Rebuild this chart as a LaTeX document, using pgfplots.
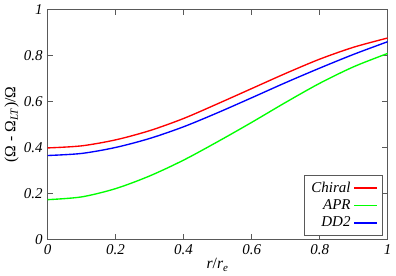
\documentclass[border=0pt]{standalone}
\usepackage{pgfplots}
\pgfplotsset{compat=1.18}
\usepackage{fontspec}
\setmainfont{Liberation Serif}
\begin{document}
\begin{tikzpicture}
\begin{axis}[
  scale only axis,
  width=250pt, height=169pt,
  xmin=0, xmax=1, ymin=0, ymax=1,
  xtick={0,0.2,0.4,0.6,0.8,1},
  ytick={0,0.2,0.4,0.6,0.8,1},
  /pgf/number format/assume math mode=true,
  tick align=inside,
  major tick length=4pt,
  axis line style={gray!70!black, line width=0.8pt},
  every tick/.style={gray!70!black, line width=0.6pt},
  tick label style={font=\fontsize{11}{12}\selectfont\itshape},
  xlabel={\textit{r}/\textit{r}\textsubscript{\textit{e}}},
  ylabel={(Ω - Ω\textsubscript{\textit{LT}})/Ω},
  label style={font=\fontsize{11.5}{12}\selectfont},
  xlabel style={yshift=4pt},
  ylabel style={yshift=-3pt},
  legend cell align=right,
  legend style={font=\fontsize{11}{11}\selectfont\itshape, draw=gray!70!black, inner xsep=3pt, inner ysep=3pt, row sep=0pt, at={(0.985,0.015)}, anchor=south east},
  legend plot pos=right,
]
\addplot[red, line width=1pt, smooth, forget plot] coordinates {(0,0.398) (0.1,0.407) (0.2,0.433) (0.3,0.473) (0.4,0.526) (0.5,0.590) (0.6,0.656) (0.7,0.722) (0.8,0.784) (0.9,0.836) (1,0.876)};
\addplot[green, line width=1pt, smooth, forget plot] coordinates {(0,0.173) (0.1,0.185) (0.2,0.221) (0.3,0.276) (0.4,0.345) (0.5,0.425) (0.6,0.509) (0.7,0.596) (0.8,0.679) (0.9,0.751) (1,0.809)};
\addplot[blue, line width=1pt, smooth, forget plot] coordinates {(0,0.365) (0.1,0.374) (0.2,0.400) (0.3,0.439) (0.4,0.490) (0.5,0.551) (0.6,0.616) (0.7,0.682) (0.8,0.745) (0.9,0.805) (1,0.860)};
\addlegendimage{draw=red, line width=1.3pt}
\addlegendentry{Chiral}
\addlegendimage{draw=green, line width=1.3pt}
\addlegendentry{APR}
\addlegendimage{draw=blue, line width=1.3pt}
\addlegendentry{DD2}
\end{axis}
\end{tikzpicture}
\end{document}
